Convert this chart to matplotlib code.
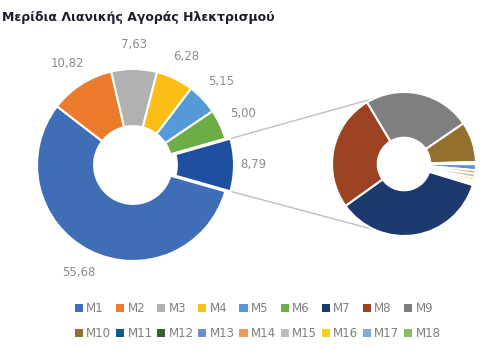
import matplotlib
matplotlib.use('Agg')
import matplotlib.pyplot as plt
from matplotlib.patches import Patch
import numpy as np

# ---- data ----
main_labels = ['M1', 'M2', 'M3', 'M4', 'M5', 'M6', 'Λοιποί']
main_values = [55.68, 10.82, 7.63, 6.28, 5.15, 5.00, 8.79]
main_colors = ['#3F6DB6', '#EC7B2B', '#B1B1B1', '#FBBE16', '#559AD6', '#6CAD46', '#1F4F9F']

sec_labels = ['M7', 'M8', 'M9', 'M10', 'M11', 'M12', 'M13', 'M14', 'M15', 'M16', 'M17', 'M18']
sec_values = [3.11, 2.31, 2.11, 0.80, 0.02, 0.02, 0.12, 0.07, 0.08, 0.06, 0.04, 0.04]
sec_colors = ['#1D3A6F', '#9A4221', '#7F7F7F', '#93712D', '#0B5A8E', '#3A5F2E',
              '#6A8DCB', '#F19757', '#BEBEBE', '#FECC1E', '#79ADDC', '#87BF5E']

title = 'Μερίδια Λιανικής Αγοράς Ηλεκτρισμού'

W, H = 495, 356
fig = plt.figure(figsize=(W / 100, H / 100), dpi=100)
ax = fig.add_axes([0, 0, 1, 1])

label_color = '#8C8C8C'

# main donut
R1 = 96
C1 = (133, H - 165)
explode = [0, 0, 0, 0, 0, 0, 5]
wedges1, _ = ax.pie(main_values, colors=main_colors, startangle=-15.9, counterclock=False,
                    radius=R1, center=C1, explode=explode,
                    wedgeprops=dict(width=R1 * 0.595, edgecolor='white', linewidth=1.5))

for w, v, e in zip(wedges1, main_values, explode):
    mid = np.deg2rad((w.theta1 + w.theta2) / 2)
    d = R1 * (1.2 if e else 1.26)
    cx, cy = w.center
    ax.text(cx + d * np.cos(mid), cy + d * np.sin(mid), f'{v:.2f}'.replace('.', ','),
            ha='center', va='center', fontsize=8.5, color=label_color)

# secondary donut
R2 = 72
C2 = (404, H - 164)
wedges2, _ = ax.pie(sec_values, colors=sec_colors, startangle=-16.9, counterclock=False,
                    radius=R2, center=C2,
                    wedgeprops=dict(width=R2 * 0.635, edgecolor='white', linewidth=1.5))

# connector lines
ow = wedges1[-1]
ocx, ocy = ow.center
for th_main, th_sec in [(ow.theta2, 114), (ow.theta1, 246)]:
    x0 = ocx + ow.r * np.cos(np.deg2rad(th_main))
    y0 = ocy + ow.r * np.sin(np.deg2rad(th_main))
    x1 = C2[0] + R2 * np.cos(np.deg2rad(th_sec))
    y1 = C2[1] + R2 * np.sin(np.deg2rad(th_sec))
    ax.plot([x0, x1], [y0, y1], color='#BFBFBF', lw=1, zorder=0)

ax.set_xlim(0, W)
ax.set_ylim(0, H)
ax.set_aspect('auto')
ax.axis('off')

# legend (column-major fill -> interleave)
all_labels = main_labels[:6] + sec_labels
all_colors = main_colors[:6] + sec_colors
order = []
for i in range(9):
    order += [i, i + 9]
handles = [Patch(facecolor=all_colors[i], edgecolor='none') for i in order]
labels = [all_labels[i] for i in order]
fig.legend(handles, labels, ncol=9, loc='center left',
           bbox_to_anchor=(75 / W, (H - 321) / H), frameon=False,
           fontsize=8.5, handlelength=0.68, handleheight=0.68, handletextpad=0.28,
           columnspacing=0.4, labelspacing=1.0, borderpad=0, borderaxespad=0,
           labelcolor='#7F7F7F')

fig.text(2 / W, 1 - 18 / H, title, ha='left', va='center', fontsize=9.0,
         fontweight='bold', color='#1E1E2A')

fig.savefig('out.png', dpi=100)
